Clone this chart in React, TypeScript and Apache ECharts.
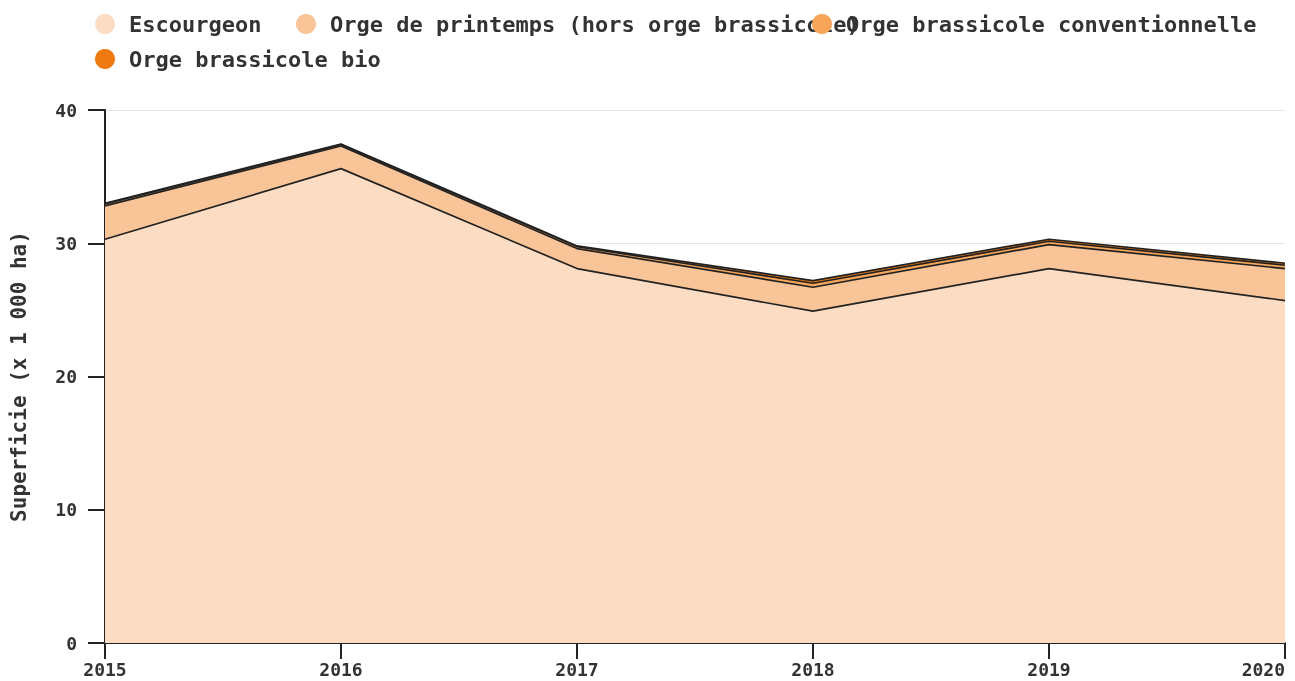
import React, { useEffect, useRef } from "react";
import * as echarts from "echarts";

const years = ["2015", "2016", "2017", "2018", "2019", "2020"];
const escourgeon = [30.3, 35.6, 28.1, 24.9, 28.1, 25.7];
const orgePrintemps = [2.5, 1.7, 1.5, 1.8, 1.8, 2.4];
const orgeConv = [0.15, 0.1, 0.15, 0.3, 0.25, 0.25];
const orgeBio = [0.05, 0.05, 0.05, 0.2, 0.15, 0.15];

const names = [
  "Escourgeon",
  "Orge de printemps (hors orge brassicole)",
  "Orge brassicole conventionnelle",
  "Orge brassicole bio",
];
const colors = ["#fcdcc2", "#f9c598", "#f7a559", "#f07a12"];
const FONT = "DejaVu Sans Mono";

export default function App() {
  const ref = useRef<HTMLDivElement>(null);
  useEffect(() => {
    if (!ref.current) return;
    const chart = echarts.init(ref.current, null, { renderer: "svg" });
    const legendBase = {
      orient: "horizontal",
      icon: "circle",
      itemWidth: 20,
      itemHeight: 20,
      selectedMode: false,
      padding: 0,
      textStyle: {
        fontFamily: FONT,
        fontWeight: "bold",
        fontSize: 22,
        color: "#333",
        padding: [0, 0, 0, 9],
      },
    };
    const datas = [escourgeon, orgePrintemps, orgeConv, orgeBio];
    chart.setOption({
      animation: false,
      color: colors,
      legend: [
        { ...legendBase, left: 95, top: 13, data: [names[0]] },
        { ...legendBase, left: 296, top: 13, data: [names[1]] },
        { ...legendBase, left: 812, top: 13, data: [names[2]] },
        { ...legendBase, left: 95, top: 48, data: [names[3]] },
      ],
      grid: { left: 105, right: 10, top: 110, bottom: 38, containLabel: false },
      xAxis: {
        type: "category",
        data: years,
        boundaryGap: false,
        axisLine: { lineStyle: { color: "#222", width: 2 } },
        axisTick: { show: true, length: 16, lineStyle: { color: "#222", width: 2 } },
        axisLabel: {
          fontFamily: FONT,
          fontWeight: "bold",
          fontSize: 18,
          color: "#333",
          margin: 17,
          alignMaxLabel: "right",
        },
        splitLine: { show: false },
      },
      yAxis: {
        type: "value",
        min: 0,
        max: 40,
        interval: 10,
        name: "Superficie (x 1 000 ha)",
        nameLocation: "middle",
        nameGap: 76,
        nameTextStyle: {
          fontFamily: FONT,
          fontWeight: "bold",
          fontSize: 21,
          color: "#333",
        },
        axisLine: { show: true, lineStyle: { color: "#222", width: 2 } },
        axisTick: { show: true, length: 17, lineStyle: { color: "#222", width: 2 } },
        axisLabel: {
          fontFamily: FONT,
          fontWeight: "bold",
          fontSize: 18,
          color: "#333",
          margin: 28,
        },
        splitLine: { show: true, lineStyle: { color: "#e6e6e6", width: 1 } },
      },
      series: datas.map((d, i) => ({
        name: names[i],
        type: "line",
        stack: "total",
        data: d,
        symbol: "none",
        lineStyle: { color: "#222", width: 1.7 },
        areaStyle: { color: colors[i], opacity: 1 },
        itemStyle: { color: colors[i] },
        z: 10 - i,
      })),
    });
    return () => chart.dispose();
  }, []);
  return (
    <div
      ref={ref}
      style={{ position: "fixed", left: 0, top: 0, width: 1295, height: 681 }}
    />
  );
}
